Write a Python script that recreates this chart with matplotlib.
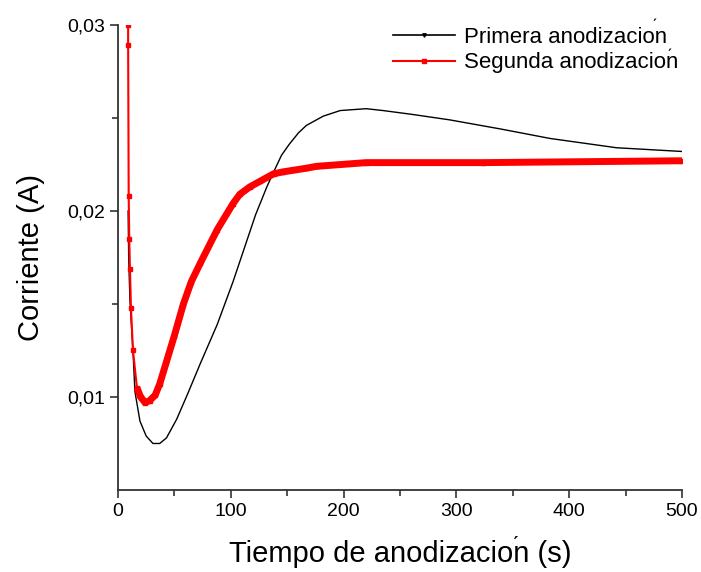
import numpy as np
import matplotlib.pyplot as plt
from matplotlib.lines import Line2D

plt.rcParams['font.family'] = ['Liberation Sans', 'DejaVu Sans']

# primera anodizacion (black)
t1 = [9, 9.5, 10.6, 13.3, 15, 19.5, 25, 31, 37, 43, 52, 62, 73, 88, 102,
      117, 122, 132, 138, 145, 152, 160, 167, 182, 197, 220, 235, 260, 294,
      340, 383, 442, 500]
i1 = [0.0200, 0.0175, 0.0152, 0.0125, 0.0103, 0.0087, 0.0079, 0.0075,
      0.0075, 0.0078, 0.0088, 0.0102, 0.0118, 0.0139, 0.0162, 0.0189,
      0.0198, 0.0213, 0.0221, 0.0230, 0.0236, 0.0242, 0.0246, 0.0251,
      0.0254, 0.0255, 0.0254, 0.0252, 0.0249, 0.0244, 0.0239, 0.0234,
      0.0232]

# segunda anodizacion (red)
t2 = [9, 9, 9.5, 10, 10.6, 11.5, 13.3, 16.8, 20, 24, 28, 33, 37, 43, 50,
      58, 65, 73, 88, 102, 108, 117, 126, 138, 146, 167, 176, 220, 324, 500]
i2 = [0.0300, 0.0289, 0.0208, 0.0185, 0.0169, 0.0148, 0.0125, 0.0105,
      0.0100, 0.0097, 0.0098, 0.0101, 0.0107, 0.0119, 0.0133, 0.0150,
      0.0162, 0.0172, 0.0190, 0.0204, 0.0209, 0.0213, 0.0216, 0.0220,
      0.0221, 0.0223, 0.0224, 0.0226, 0.0226, 0.0227]

labels = ['Primera anodizacion', 'Segunda anodizacion']
yticks = [0.01, 0.02, 0.03]
ytick_labels = ['0,01', '0,02', '0,03']
xticks = [0, 100, 200, 300, 400, 500]

fig = plt.figure(figsize=(7.01, 5.72), dpi=100)
ax = fig.add_axes([0.1683, 0.1434, 0.8046, 0.8129])

ax.plot(t1, i1, color='black', lw=1.0)
# thin start with sparse squares, then the dense (thick) part
ax.plot(t2, i2, color='red', lw=1.5, marker='s', ms=3.5)
ax.plot(t2[7:], i2[7:], color='red', lw=5, solid_capstyle='butt')

ax.set_xlim(0, 500)
ax.set_ylim(0.005, 0.03)
ax.set_xticks(xticks)
ax.set_xticks(np.arange(50, 500, 100), minor=True)
ax.set_yticks(yticks)
ax.set_yticklabels(ytick_labels)
ax.set_yticks([0.015, 0.025], minor=True)

for s in ['top', 'right']:
    ax.spines[s].set_visible(False)
for s in ['left', 'bottom']:
    ax.spines[s].set_linewidth(1.3)
    ax.spines[s].set_color('#333333')
ax.tick_params(which='major', direction='out', length=6, width=1.2,
               labelsize=14, color='#333333')
ax.tick_params(which='minor', direction='out', length=4, width=1.2,
               color='#333333')

ax.set_xlabel('Tiempo de anodizacion (s)', fontsize=21, labelpad=14)
ax.set_ylabel('Corriente (A)', fontsize=21, labelpad=16)

handles = [Line2D([], [], color='black', lw=1.2, marker='v', ms=2.5),
           Line2D([], [], color='red', lw=1.5, marker='s', ms=3.5)]
ax.legend(handles, labels, loc='upper right', bbox_to_anchor=(1.01, 1.015),
          frameon=False, fontsize=16, handlelength=2.8, handletextpad=0.4,
          labelspacing=0.2, borderaxespad=0.0)

# stray accent marks as in the original
fig.text(0.735, 0.044, 'ˊ', fontsize=16, ha='center', va='center')
fig.text(0.933, 0.953, 'ˊ', fontsize=12, ha='center', va='center')
fig.text(0.954, 0.902, 'ˊ', fontsize=12, ha='center', va='center')

fig.savefig('out.png', dpi=100)
